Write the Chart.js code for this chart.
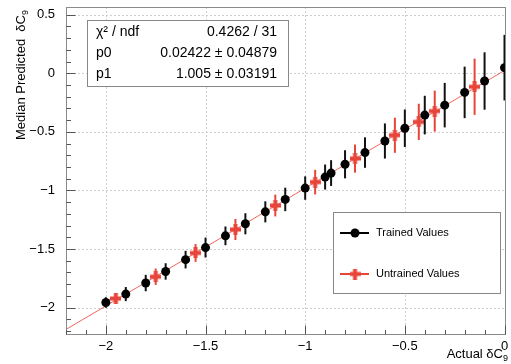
<!DOCTYPE html>
<html>
<head>
<meta charset="utf-8">
<script src="https://cdn.jsdelivr.net/npm/chart.js@4.4.1/dist/chart.umd.min.js"></script>
<style>
  html, body { margin: 0; padding: 0; background: #fff; }
  canvas { display: block; }
</style>
</head>
<body>
<canvas id="fit-chart" width="511" height="364"></canvas>
<script>
// Trained values (black points)
const trainedX = [-2.0, -1.9, -1.8, -1.7, -1.6, -1.5, -1.4, -1.3, -1.2, -1.1, -1.0,
                  -0.9, -0.87, -0.8, -0.7, -0.6, -0.5, -0.4, -0.3, -0.2, -0.1, 0.0];
const trainedY = [-1.957, -1.885, -1.791, -1.692, -1.591, -1.488, -1.388, -1.285, -1.183, -1.077, -0.980,
                  -0.886, -0.852, -0.777, -0.677, -0.578, -0.469, -0.357, -0.272, -0.163, -0.066, 0.048];
const trainedErr = [0.045, 0.06, 0.07, 0.07, 0.075, 0.085, 0.08, 0.09, 0.09, 0.10, 0.10,
                    0.107, 0.11, 0.12, 0.13, 0.15, 0.16, 0.165, 0.19, 0.22, 0.245, 0.28];

// Untrained values (red crosses)
const untrainedX = [-1.95, -1.75, -1.55, -1.35, -1.15, -0.95, -0.75, -0.55, -0.43, -0.35, -0.15];
const untrainedY = [-1.923, -1.737, -1.534, -1.334, -1.129, -0.929, -0.728, -0.529, -0.415, -0.323, -0.115];
const untrainedErr = [0.047, 0.07, 0.076, 0.09, 0.093, 0.105, 0.12, 0.15, 0.155, 0.175, 0.24];

// Fit line end points
const fitX = [-2.2, 0.0];
const fitY = [-2.187, 0.024];

// Axis ticks
const xTicks = [-2, -1.5, -1, -0.5, 0];
const yTicks = [-2, -1.5, -1, -0.5, 0, 0.5];

// Fit box
const statLabels = ['\u03C7\u00B2 / ndf', 'p0', 'p1'];
const statValues = ['0.4262 / 31', '0.02422 \u00B1 0.04879', '1.005 \u00B1 0.03191'];

const legendLabels = ['Trained Values', 'Untrained Values'];

const RED = '#e8453a';
const FONT = '"Liberation Sans", Arial, Helvetica, sans-serif';

function toPoints(xs, ys, es) {
    return xs.map((x, i) => ({ x: x, y: ys[i], e: es ? es[i] : 0 }));
}

function fmt(v) {
    return String(v).replace('-', '\u2212');
}

// Cruz llena estilo ROOT (marker 34)
function makeCross(size, arm, color) {
    const c = document.createElement('canvas');
    c.width = size;
    c.height = size;
    const g = c.getContext('2d');
    g.fillStyle = color;
    const o = (size - arm) / 2;
    g.fillRect(o, 0, arm, size);
    g.fillRect(0, o, size, arm);
    return c;
}
const crossMarker = makeCross(11, 4, RED);

function drawLine(ctx, x1, y1, x2, y2) {
    ctx.beginPath();
    ctx.moveTo(x1, y1);
    ctx.lineTo(x2, y2);
    ctx.stroke();
}

function drawSubText(ctx, main, sub, x, y, size) {
    // texto alineado a la derecha con subíndice
    ctx.font = size + 'px ' + FONT;
    const w1 = ctx.measureText(main).width;
    ctx.font = Math.round(size * 0.7) + 'px ' + FONT;
    const w2 = ctx.measureText(sub).width;
    ctx.textAlign = 'left';
    ctx.textBaseline = 'alphabetic';
    ctx.font = size + 'px ' + FONT;
    ctx.fillText(main, x - w1 - w2, y);
    ctx.font = Math.round(size * 0.7) + 'px ' + FONT;
    ctx.fillText(sub, x - w2, y + 3);
}

const rootStyle = {
    id: 'rootStyle',
    beforeDatasetsDraw(chart) {
        const { ctx, chartArea: a, scales: { x, y } } = chart;
        ctx.save();
        ctx.strokeStyle = '#cfcfcf';
        ctx.lineWidth = 1;
        ctx.setLineDash([2, 2]);
        xTicks.forEach(v => {
            const px = Math.round(x.getPixelForValue(v)) + 0.5;
            drawLine(ctx, px, a.top, px, a.bottom);
        });
        yTicks.forEach(v => {
            const py = Math.round(y.getPixelForValue(v)) + 0.5;
            drawLine(ctx, a.left, py, a.right, py);
        });
        ctx.restore();
    },
    beforeDatasetDraw(chart, args) {
        const ds = chart.data.datasets[args.index];
        if (!ds.errColor) return;
        const { ctx, scales: { x, y } } = chart;
        ctx.save();
        ctx.strokeStyle = ds.errColor;
        ctx.lineWidth = 2;
        ds.data.forEach(p => {
            const px = x.getPixelForValue(p.x);
            drawLine(ctx, px, y.getPixelForValue(p.y - p.e), px, y.getPixelForValue(p.y + p.e));
        });
        ctx.restore();
    },
    afterDatasetsDraw(chart) {
        const { ctx, chartArea: a, scales: { x, y } } = chart;
        ctx.save();

        // marco
        ctx.strokeStyle = '#8a8a8a';
        ctx.lineWidth = 1;
        ctx.strokeRect(Math.round(a.left) + 0.5, Math.round(a.top) + 0.5,
            Math.round(a.right - a.left), Math.round(a.bottom - a.top));

        // marcas mayores y menores
        ctx.strokeStyle = '#555';
        const bottom = Math.round(a.bottom) + 0.5;
        const left = Math.round(a.left) + 0.5;
        for (let i = -22; i <= 0; i++) {
            const major = i % 5 === 0;
            const px = Math.round(x.getPixelForValue(i / 10)) + 0.5;
            drawLine(ctx, px, bottom, px, bottom - (major ? 9 : 4.5));
        }
        for (let i = -22; i <= 5; i++) {
            const major = i % 5 === 0;
            const py = Math.round(y.getPixelForValue(i / 10)) + 0.5;
            drawLine(ctx, left, py, left + (major ? 9 : 4.5), py);
        }

        // etiquetas de los ejes
        ctx.fillStyle = '#000';
        ctx.font = '13px ' + FONT;
        ctx.textBaseline = 'middle';
        ctx.textAlign = 'center';
        xTicks.forEach(v => ctx.fillText(fmt(v), x.getPixelForValue(v), 346));
        ctx.textAlign = 'right';
        yTicks.forEach(v => ctx.fillText(fmt(v), 55, y.getPixelForValue(v)));

        // titulos de ejes
        drawSubText(ctx, 'Actual \u03B4C', '9', 508, 358, 13);
        ctx.save();
        ctx.translate(25, 10);
        ctx.rotate(-Math.PI / 2);
        drawSubText(ctx, 'Median Predicted  \u03B4C', '9', 0, 0, 13);
        ctx.restore();

        // caja de ajuste
        ctx.fillStyle = '#fff';
        ctx.fillRect(87.5, 20.5, 201, 66);
        ctx.strokeStyle = '#888';
        ctx.strokeRect(87.5, 20.5, 201, 66);
        ctx.fillStyle = '#000';
        ctx.font = '14px ' + FONT;
        ctx.textBaseline = 'middle';
        const rows = [32, 53, 74];
        statLabels.forEach((t, i) => {
            ctx.textAlign = 'left';
            ctx.fillText(t, 96, rows[i]);
            ctx.textAlign = 'right';
            ctx.fillText(statValues[i], 277, rows[i]);
        });

        // leyenda
        ctx.fillStyle = '#fff';
        ctx.fillRect(333.5, 212.5, 167, 81);
        ctx.strokeStyle = '#888';
        ctx.strokeRect(333.5, 212.5, 167, 81);
        const ly = [233, 274];
        ctx.lineWidth = 2;
        ctx.strokeStyle = '#000';
        drawLine(ctx, 340, ly[0], 369, ly[0]);
        ctx.fillStyle = '#000';
        ctx.beginPath();
        ctx.arc(355, ly[0], 4.5, 0, Math.PI * 2);
        ctx.fill();
        ctx.strokeStyle = RED;
        drawLine(ctx, 340, ly[1], 369, ly[1]);
        ctx.drawImage(crossMarker, 355 - 5.5, ly[1] - 5.5);
        ctx.fillStyle = '#000';
        ctx.font = '11px ' + FONT;
        ctx.textAlign = 'left';
        ctx.textBaseline = 'middle';
        legendLabels.forEach((t, i) => ctx.fillText(t, 376, ly[i]));

        ctx.restore();
    }
};

const ctx = document.getElementById('fit-chart');
new Chart(ctx, {
    type: 'scatter',
    data: {
        datasets: [{
            label: 'Fit',
            data: toPoints(fitX, fitY),
            showLine: true,
            borderColor: 'rgba(240, 85, 75, 0.9)',
            borderWidth: 1,
            pointRadius: 0,
            order: 3
        }, {
            label: legendLabels[1],
            data: toPoints(untrainedX, untrainedY, untrainedErr),
            pointStyle: crossMarker,
            pointRadius: 5.5,
            errColor: RED,
            order: 2
        }, {
            label: legendLabels[0],
            data: toPoints(trainedX, trainedY, trainedErr),
            pointStyle: 'circle',
            pointRadius: 4.5,
            backgroundColor: '#000',
            borderWidth: 0,
            errColor: '#111',
            order: 1
        }]
    },
    options: {
        responsive: false,
        animation: false,
        layout: { padding: { top: 7, right: 3, left: 0, bottom: 0 } },
        plugins: {
            legend: { display: false },
            tooltip: { enabled: false }
        },
        scales: {
            x: {
                type: 'linear',
                min: -2.2,
                max: 0,
                grid: { display: false, drawTicks: false },
                border: { display: false },
                ticks: { display: false },
                afterFit: s => { s.height = 30; }
            },
            y: {
                type: 'linear',
                min: -2.226,
                max: 0.566,
                grid: { display: false, drawTicks: false },
                border: { display: false },
                ticks: { display: false },
                afterFit: s => { s.width = 66; }
            }
        }
    },
    plugins: [rootStyle]
});
</script>
</body>
</html>
